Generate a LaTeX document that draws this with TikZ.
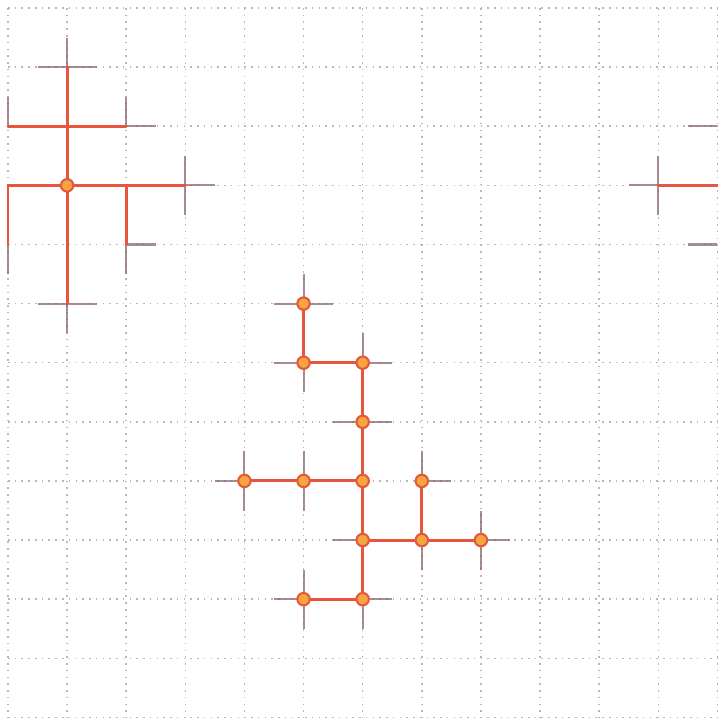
\documentclass[tikz,border=0pt]{standalone}
\definecolor{edgered}{HTML}{E8553F}
\definecolor{nodefill}{HTML}{F6A53F}
\definecolor{nodedraw}{HTML}{E4593B}
\definecolor{stubcol}{HTML}{8A6670}
\definecolor{gridcol}{HTML}{B8B8B8}
\begin{document}
\begin{tikzpicture}[x=1cm,y=1cm,
  gridline/.style={draw=gridcol, line width=0.75pt, dash pattern=on 0.75pt off 2.5pt},
  stub/.style={draw=stubcol, line width=1pt, opacity=0.75},
  edge/.style={draw=edgered, line width=1.4pt, line cap=round},
  dotnode/.style={circle, fill=nodefill, draw=nodedraw, line width=1pt, minimum size=0.21cm, inner sep=0pt}]
\useasboundingbox (-0.135,0.135) rectangle (12.0,-12.01);
% grid
\foreach \i in {0,...,12} {
  \draw[gridline] (\i,0) -- (\i,-12.1);
  \draw[gridline] (0,-\i) -- (12.1,-\i);
}
% grid coordinates
\foreach \i in {0,...,12} {\foreach \j in {0,...,12} {\coordinate (p\i-\j) at (\i,-\j);}}
% ---------- stubs (half edges) ----------
% top-left tree
\draw[stub] (p1-1) -- ++(0,0.5);
\draw[stub] (p1-1) -- ++(-0.5,0);
\draw[stub] (p1-1) -- ++(0.5,0);
\draw[stub] (p0-2) -- ++(0,0.5);
\draw[stub] (p2-2) -- ++(0,0.5);
\draw[stub] (p2-2) -- ++(0.5,0);
\draw[stub] (p3-3) -- ++(0,0.5);
\draw[stub] (p3-3) -- ++(0,-0.5);
\draw[stub] (p3-3) -- ++(0.5,0);
\draw[stub] (p0-4) -- ++(0,-0.5);
\draw[stub] (p2-4) -- ++(0,-0.5);
\draw[stub] (p2-4) -- ++(0.5,0);
\draw[stub] (p1-5) -- ++(0,-0.5);
\draw[stub] (p1-5) -- ++(-0.5,0);
\draw[stub] (p1-5) -- ++(0.5,0);
% top-right
\draw[stub] (p11-3) -- ++(0,0.5);
\draw[stub] (p11-3) -- ++(0,-0.5);
\draw[stub] (p11-3) -- ++(-0.5,0);
\draw[stub] (p12-2) -- ++(-0.5,0);
\draw[stub] (p12-4) -- ++(-0.5,0);
% lower tree
\draw[stub] (p5-5) -- ++(0,0.5);
\draw[stub] (p5-5) -- ++(-0.5,0);
\draw[stub] (p5-5) -- ++(0.5,0);
\draw[stub] (p5-6) -- ++(-0.5,0);
\draw[stub] (p5-6) -- ++(0,-0.5);
\draw[stub] (p6-6) -- ++(0,0.5);
\draw[stub] (p6-6) -- ++(0.5,0);
\draw[stub] (p6-7) -- ++(-0.5,0);
\draw[stub] (p6-7) -- ++(0.5,0);
\draw[stub] (p4-8) -- ++(-0.5,0);
\draw[stub] (p4-8) -- ++(0,0.5);
\draw[stub] (p4-8) -- ++(0,-0.5);
\draw[stub] (p5-8) -- ++(0,0.5);
\draw[stub] (p5-8) -- ++(0,-0.5);
\draw[stub] (p7-8) -- ++(0,0.5);
\draw[stub] (p7-8) -- ++(0.5,0);
\draw[stub] (p6-9) -- ++(-0.5,0);
\draw[stub] (p7-9) -- ++(0,-0.5);
\draw[stub] (p8-9) -- ++(0,0.5);
\draw[stub] (p8-9) -- ++(0,-0.5);
\draw[stub] (p8-9) -- ++(0.5,0);
\draw[stub] (p5-10) -- ++(0,0.5);
\draw[stub] (p5-10) -- ++(-0.5,0);
\draw[stub] (p5-10) -- ++(0,-0.5);
\draw[stub] (p6-10) -- ++(0.5,0);
\draw[stub] (p6-10) -- ++(0,-0.5);
% ---------- red edges ----------
% top-left tree
\draw[edge] (p0-2) -- (p1-2) -- (p2-2);
\draw[edge] (p0-3) -- (p1-3) -- (p2-3) -- (p3-3);
\draw[edge] (p0-3) -- (p0-4);
\draw[edge] (p1-1) -- (p1-2) -- (p1-3) -- (p1-4) -- (p1-5);
\draw[edge] (p2-3) -- (p2-4);
% top-right
\draw[edge] (p11-3) -- (p12-3);
% lower tree
\draw[edge] (p5-5) -- (p5-6) -- (p6-6) -- (p6-7) -- (p6-8) -- (p6-9) -- (p6-10) -- (p5-10);
\draw[edge] (p4-8) -- (p5-8) -- (p6-8);
\draw[edge] (p7-8) -- (p7-9);
\draw[edge] (p6-9) -- (p7-9) -- (p8-9);
% ---------- marked nodes ----------
\foreach \c in {1-3,5-5,5-6,6-6,6-7,4-8,5-8,6-8,7-8,6-9,7-9,8-9,5-10,6-10}
  \node[dotnode] (n\c) at (p\c) {};
\end{tikzpicture}
\end{document}
